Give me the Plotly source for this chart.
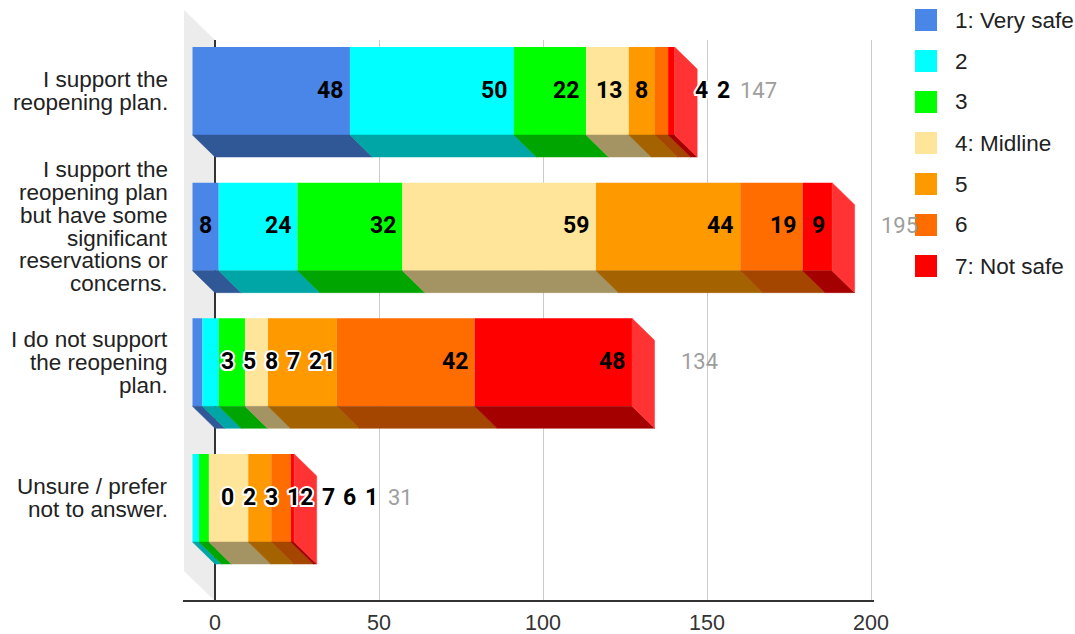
import plotly.graph_objects as go

# ---------------- data ----------------
categories = [
    "I support the reopening plan.",
    "I support the reopening plan but have some significant reservations or concerns.",
    "I do not support the reopening plan.",
    "Unsure / prefer not to answer.",
]
category_lines = [
    ["I support the", "reopening plan."],
    ["I support the", "reopening plan", "but have some", "significant", "reservations or", "concerns."],
    ["I do not support", "the reopening", "plan."],
    ["Unsure / prefer", "not to answer."],
]
series_names = ["1: Very safe", "2", "3", "4: Midline", "5", "6", "7: Not safe"]
very_safe = [48, 8, 3, 0]
safe_2 = [50, 24, 5, 2]
safe_3 = [22, 32, 8, 3]
midline = [13, 59, 7, 12]
unsafe_5 = [8, 44, 21, 7]
unsafe_6 = [4, 19, 42, 6]
not_safe = [2, 9, 48, 1]
x_ticks = [0, 50, 100, 150, 200]

series_values = [very_safe, safe_2, safe_3, midline, unsafe_5, unsafe_6, not_safe]

# ---------------- style ----------------
colors = ["#4a86e8", "#00ffff", "#00ff00", "#ffe599", "#ff9900", "#ff6d01", "#ff0000"]


def darken(hexc, f=0.65):
    r, g, b = int(hexc[1:3], 16), int(hexc[3:5], 16), int(hexc[5:7], 16)
    return "#%02x%02x%02x" % (int(r * f), int(g * f), int(b * f))


def lighten(hexc, f=0.2):
    r, g, b = int(hexc[1:3], 16), int(hexc[3:5], 16), int(hexc[5:7], 16)
    return "#%02x%02x%02x" % tuple(int(c + (255 - c) * f) for c in (r, g, b))


W, H = 1075, 634
PLOT_L, PLOT_R, PLOT_T, PLOT_B = 183, 1000, 40, 601
ZERO_PX = 215          # pixel of x = 0 on the back plane
PX = 3.28              # pixels per x unit
ROW_PX = 135.67        # pixels per category
FIRST_ROW_PX = 91      # pixel centre of first bar's front face

x_range = [(PLOT_L - ZERO_PX) / PX, (PLOT_R - ZERO_PX) / PX]
y_range = [(PLOT_B - FIRST_ROW_PX) / ROW_PX, (PLOT_T - FIRST_ROW_PX) / ROW_PX]


def ux(p):
    return p / PX


def uy(p):
    return p / ROW_PX


DX = ux(22.5)          # 3D depth, x
DY = uy(22)            # 3D depth, y
BAR_H = uy(88)
WALL_DX = ux(31)
WALL_DY_PAPER = 30 / (PLOT_B - PLOT_T)

LABEL_FONT = "Roboto"
TEXT_FONT = "Liberation Sans"
LABEL_SIZE = 23
DIGIT_W = ux(12.9)
PAD = ux(8)
FIT_PAD = ux(6)
GAP = ux(9)
MIN_LEFT = ux(5)
TRAIL_OFF = ux(-3)
TOTAL_GAP = ux(25)
TOTAL_AFTER = ux(10)
HALO = ("2px 0 0 #fff, -2px 0 0 #fff, 0 2px 0 #fff, 0 -2px 0 #fff, "
        "1.5px 1.5px 0 #fff, -1.5px 1.5px 0 #fff, 1.5px -1.5px 0 #fff, -1.5px -1.5px 0 #fff")

n_cat = len(categories)
totals = [sum(series_values[k][i] for k in range(len(series_values))) for i in range(n_cat)]
starts = []
for k in range(len(series_values)):
    starts.append([sum(series_values[j][i] for j in range(k)) for i in range(n_cat)])

fig = go.Figure()

# front faces
for k, name in enumerate(series_names):
    fig.add_trace(go.Bar(
        y=list(range(n_cat)), x=series_values[k],
        base=[starts[k][i] - DX for i in range(n_cat)],
        orientation="h", width=BAR_H, name=name,
        marker=dict(color=colors[k], line=dict(width=0)),
        showlegend=False, hoverinfo="skip",
    ))

# bottom faces
for k, name in enumerate(series_names):
    xs, ys = [], []
    for i in range(n_cat):
        v = series_values[k][i]
        if v == 0:
            continue
        s = starts[k][i] - DX
        e = s + v
        b = i + BAR_H / 2
        xs += [s, e, e + DX, s + DX, s, None]
        ys += [b, b, b + DY, b + DY, b, None]
    dk = darken(colors[k])
    fig.add_trace(go.Scatter(x=xs, y=ys, mode="lines", fill="toself", fillcolor=dk,
                             line=dict(color=dk, width=0.5), hoverinfo="skip", showlegend=False))

# side faces (right end)
for i in range(n_cat):
    last = max(k for k in range(len(series_values)) if series_values[k][i] > 0)
    e = totals[i] - DX
    t, b = i - BAR_H / 2, i + BAR_H / 2
    lc = lighten(colors[last])
    fig.add_trace(go.Scatter(x=[e, e + DX, e + DX, e, e], y=[t, t + DY, b + DY, b, t],
                             mode="lines", fill="toself", fillcolor=lc,
                             line=dict(color=lc, width=0.5), hoverinfo="skip", showlegend=False))

annotations = []
# value labels
for i in range(n_cat):
    vals = [series_values[k][i] for k in range(len(series_values))]
    fits = []
    for k, v in enumerate(vals):
        w = len(str(v)) * DIGIT_W
        fits.append(v >= w + 2 * FIT_PAD)
    trailing = set()
    for k in range(len(vals) - 1, -1, -1):
        if fits[k]:
            break
        trailing.add(k)
    prev_right = -1e9
    for k, v in enumerate(vals):
        w = len(str(v)) * DIGIT_W
        e = starts[k][i] + v - DX
        ideal_left = e - PAD - w
        if k in trailing:
            left = max(totals[i] + TRAIL_OFF, prev_right + GAP)
            halo = True
        else:
            left = max(ideal_left, prev_right + GAP, (MIN_LEFT if not fits[k] else -1e9))
            halo = left > ideal_left + 1e-6
        prev_right = left + w
        font = dict(family=LABEL_FONT, size=LABEL_SIZE, color="#000000", weight="bold")
        if halo:
            font["shadow"] = HALO
        annotations.append(dict(x=left, y=i, xref="x", yref="y", text=str(v), showarrow=False,
                                xanchor="left", yanchor="middle", borderpad=0, yshift=1, font=font))
    tl = max(totals[i] + TOTAL_GAP, prev_right + TOTAL_AFTER)
    annotations.append(dict(x=tl, y=i, xref="x", yref="y", text=str(totals[i]), showarrow=False,
                            xanchor="left", yanchor="middle", borderpad=0, yshift=1,
                            font=dict(family=LABEL_FONT, size=LABEL_SIZE - 1, color="#9e9e9e")))

# category labels (one annotation per line)
LINE_SP = 22.8
for i, lines in enumerate(category_lines):
    n = len(lines)
    for j, line in enumerate(lines):
        annotations.append(dict(x=0, xref="paper", y=i, yref="y", text=line, showarrow=False,
                                xanchor="right", yanchor="middle", xshift=-13,
                                yshift=-(j - (n - 1) / 2) * LINE_SP,
                                font=dict(family=TEXT_FONT, size=22.5, color="#222222")))


def paper_x(p):
    return (p - PLOT_L) / (PLOT_R - PLOT_L)


def paper_y(p):
    return (PLOT_B - p) / (PLOT_B - PLOT_T)


shapes = [
    # left wall
    dict(type="path", xref="x", yref="paper", layer="below", line=dict(width=0),
         fillcolor="#ececec",
         path=f"M {-WALL_DX},{WALL_DY_PAPER} L 0,0 L 0,1 L {-WALL_DX},{1 + WALL_DY_PAPER} Z"),
    # bottom axis line
    dict(type="line", xref="x", yref="paper", layer="above", x0=x_range[0], x1=x_ticks[-1] + ux(3),
         y0=0, y1=0, line=dict(color="#333333", width=2)),
]

# legend
LEG_BOX_X = 926
LEG_Y0 = 20
LEG_STEP = 41
LEG_BOX = 22
for k, name in enumerate(series_names):
    cy = LEG_Y0 + k * LEG_STEP
    shapes.append(dict(type="rect", xref="paper", yref="paper", layer="above",
                       x0=paper_x(LEG_BOX_X - LEG_BOX / 2), x1=paper_x(LEG_BOX_X + LEG_BOX / 2),
                       y0=paper_y(cy + LEG_BOX / 2), y1=paper_y(cy - LEG_BOX / 2),
                       fillcolor=colors[k], line=dict(width=0)))
    annotations.append(dict(x=paper_x(953), y=paper_y(cy), xref="paper", yref="paper", text=name,
                            showarrow=False, xanchor="left", yanchor="middle",
                            font=dict(family=TEXT_FONT, size=22.5, color="#222222")))

fig.update_layout(
    width=W, height=H,
    margin=dict(l=PLOT_L, r=W - PLOT_R, t=PLOT_T, b=H - PLOT_B, pad=0),
    barmode="overlay",
    plot_bgcolor="white", paper_bgcolor="white",
    showlegend=False,
    shapes=shapes, annotations=annotations,
    xaxis=dict(range=x_range, tickvals=x_ticks, ticktext=[str(t) for t in x_ticks],
               showgrid=True, gridcolor="#cccccc", gridwidth=1,
               zeroline=True, zerolinecolor="#333333", zerolinewidth=1.5,
               showline=False, ticks="", automargin=False, ticklabelstandoff=6,
               tickfont=dict(family=TEXT_FONT, size=21.5, color="#333333")),
    yaxis=dict(range=y_range, showgrid=False, zeroline=False, showticklabels=False,
               showline=False, ticks="", automargin=False),
)

fig.write_html("out.html")
